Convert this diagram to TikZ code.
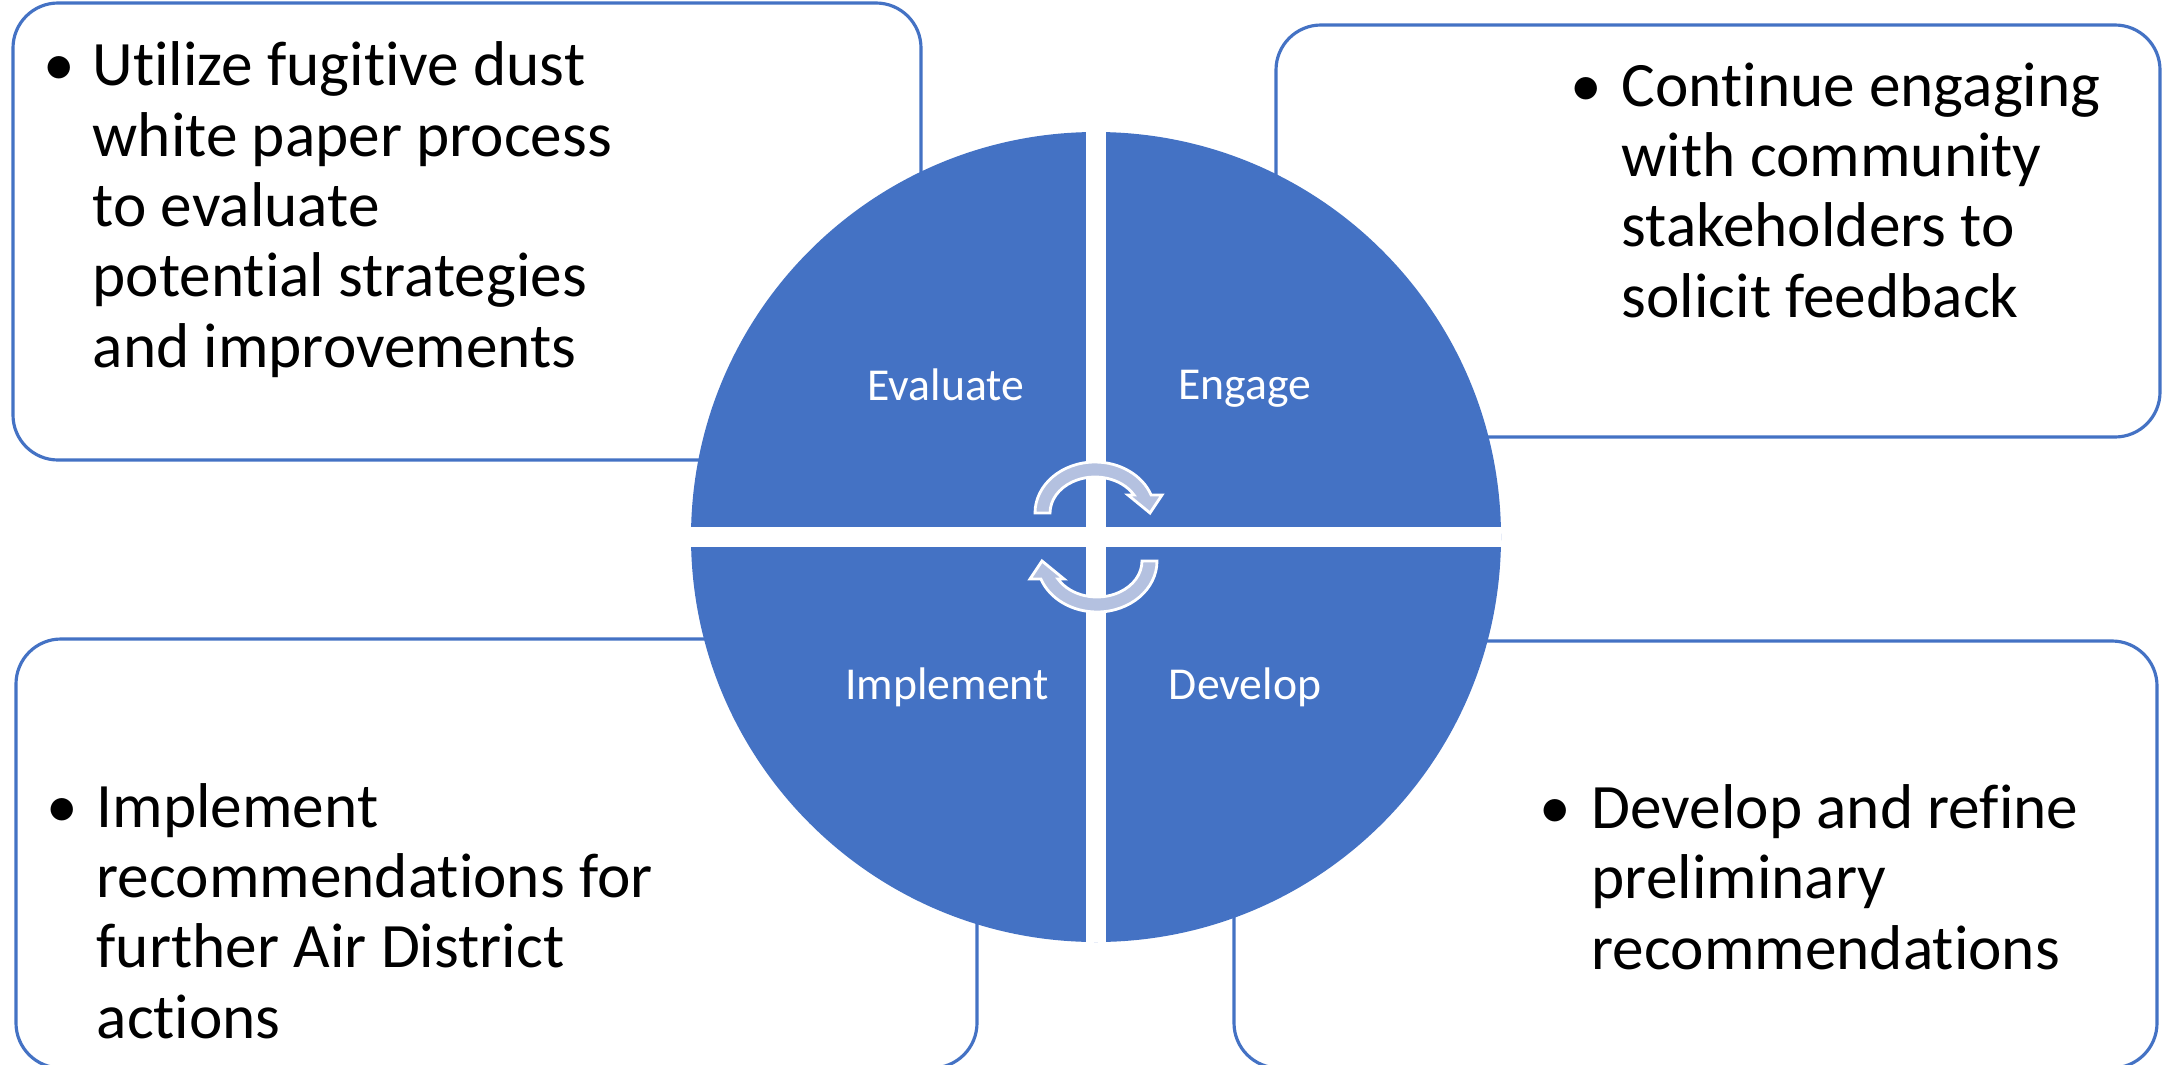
\documentclass[tikz,border=0pt]{standalone}
\usepackage{fontspec}
\setmainfont{Carlito}[Ligatures=NoCommon]
\usepackage{tikz}
\usetikzlibrary{positioning}
\definecolor{wheelblue}{HTML}{4472C4}
\definecolor{arrowblue}{HTML}{B4C1E0}

\begin{document}
\begin{tikzpicture}[
  notebox/.style={draw=wheelblue,line width=0.9pt,rounded corners=0.45cm,fill=white},
  note/.style={anchor=base west,align=left,inner sep=0pt,font=\fontsize{18}{20}\selectfont},
  dot/.style={anchor=base,inner sep=0pt,font=\fontsize{18}{20}\selectfont},
  quad/.style={anchor=base,inner sep=0pt,text=white,font=\fontsize{13}{15}\selectfont},
  cyclearrow/.pic={
    \filldraw[fill=arrowblue,draw=white,line width=0.8pt]
      (-0.60,0) arc[start angle=180,end angle=20.7,x radius=0.60,y radius=0.51]
      -- (0.67,0.18) -- (0.55,0) -- (0.33,0.18) -- (0.39,0.18)
      arc[start angle=30,end angle=180,x radius=0.45,y radius=0.36] -- cycle;
  }]
\useasboundingbox (0,0) rectangle (21.62,10.64);
\clip (0,0) rectangle (21.62,10.64);
% the four note boxes, partly under the wheel
\draw[notebox] (0.13,6.04) rectangle (9.21,10.61);
\draw[notebox] (12.76,6.27) rectangle (21.60,10.39);
\draw[notebox] (0.16,-0.04) rectangle (9.77,4.25);
\draw[notebox] (12.34,-0.04) rectangle (21.57,4.23);
% wheel cut in four
\node[circle,fill=wheelblue,minimum size=8.1cm,inner sep=0pt,outer sep=0pt] (wheel) at (10.96,5.27) {};
\draw[white,line width=0.2cm] (wheel.west) -- (wheel.east);
\draw[white,line width=0.2cm] (wheel.north) -- (wheel.south);
\node[quad] (evallbl) at (9.46,6.64) {Evaluate};
\node[quad] (engagelbl) at (12.45,6.65) {Engage};
\node[quad] (implbl) at (9.47,3.65) {Implement};
\node[quad] (devlbl) at (12.45,3.65) {Develop};
\pic at (10.95,5.51) {cyclearrow};
\pic[rotate=180] at (10.97,5.03) {cyclearrow};
% bullet notes (node base = last line)
\node[note] (evalnote) at (0.92,6.97) {Utilize fugitive dust\\white paper process\\to evaluate\\potential strategies\\and improvements};
\node[dot] (evaldot) at (0.59,9.79) {•};
\node[note] (engagenote) at (16.21,7.47) {Continue engaging\\with community\\stakeholders to\\solicit feedback};
\node[dot] (engagedot) at (15.86,9.58) {•};
\node[note] (impnote) at (0.96,0.26) {Implement\\recommendations for\\further Air District\\actions};
\node[dot] (impdot) at (0.62,2.37) {•};
\node[note] (devnote) at (15.91,0.95) {Develop and refine\\preliminary\\recommendations};
\node[dot] (devdot) at (15.55,2.36) {•};
\end{tikzpicture}
\end{document}
